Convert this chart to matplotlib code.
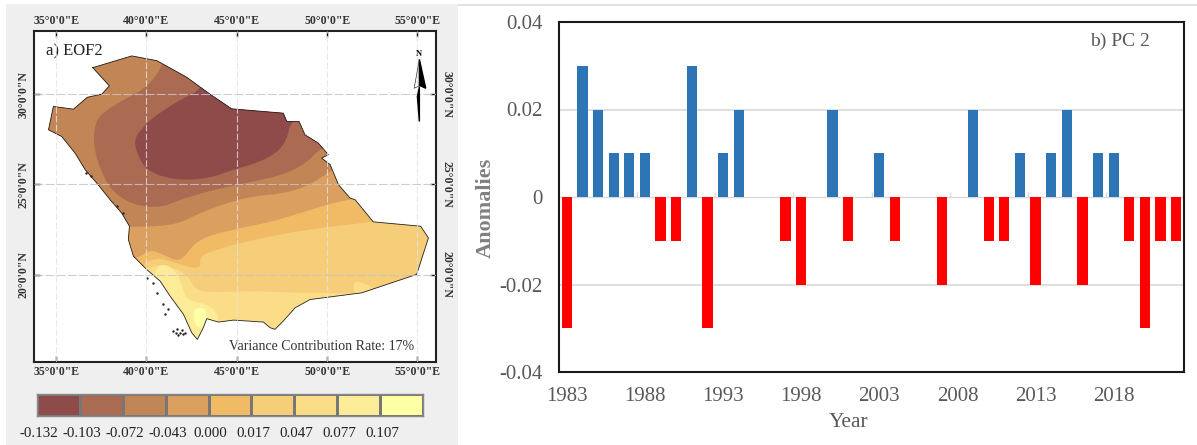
import matplotlib
matplotlib.use("Agg")
import matplotlib.pyplot as plt
from matplotlib.patches import Polygon, Rectangle
from matplotlib.colors import ListedColormap
import numpy as np

plt.rcParams["font.family"] = ["Liberation Serif", "DejaVu Serif"]

W, H = 1197, 445

# === PC 2 values ===
years = list(range(1983, 2023))
pc2 = [-0.03, 0.03, 0.02, 0.01, 0.01, 0.01, -0.01, -0.01, 0.03, -0.03,
       0.01, 0.02, 0, 0, -0.01, -0.02, 0, 0.02, -0.01, 0,
       0.01, -0.01, 0, 0, -0.02, 0, 0.02, -0.01, -0.01, 0.01,
       -0.02, 0.01, 0.02, -0.02, 0.01, 0.01, -0.01, -0.03, -0.01, -0.01]
year_ticks = list(range(1983, 2019, 5))
pc_ticks = [-0.04, -0.02, 0, 0.02, 0.04]
pc_labels = ["-0.04", "-0.02", "0", "0.02", "0.04"]

# === EOF2 classes ===
levels = ["-0.132", "-0.103", "-0.072", "-0.043", "0.000", "0.017", "0.047", "0.077", "0.107"]
colors = ["#8f4a4a", "#ab6a52", "#c28556", "#db9f5f", "#f1bb66", "#f6cd78", "#fbdc87", "#fdec97", "#ffffa6"]

# Country outline (lon, lat)
outline_lon = [37.03, 39.19, 40.57, 42.23, 43.52, 44.72, 47.58, 47.77, 48.45, 48.78, 49.52, 50.07, 49.70, 50.17,
               50.63, 51.27, 51.55, 52.56, 55.18, 55.61, 54.96, 51.92, 49.06, 48.23, 47.58, 47.12, 46.84, 46.48,
               44.82, 43.99, 43.34, 43.15, 42.82, 42.51, 42.05, 41.31, 40.76, 40.02, 39.28, 39.00, 39.06, 38.63,
               37.99, 37.25, 36.61, 36.05, 35.31, 34.58, 34.85, 35.96, 36.73, 37.53, 37.95]
outline_lat = [31.47, 32.12, 31.86, 30.94, 30.00, 29.19, 28.95, 28.49, 28.49, 27.75, 27.29, 26.65, 26.46, 26.10,
               24.99, 24.25, 24.16, 22.93, 22.69, 22.04, 20.02, 19.00, 18.63, 18.17, 17.44, 16.98, 17.07, 17.38,
               17.49, 17.38, 17.57, 17.07, 16.42, 16.79, 17.81, 18.82, 19.65, 20.29, 21.03, 21.95, 22.69, 23.42,
               24.16, 25.08, 25.82, 26.74, 27.66, 28.03, 29.32, 29.17, 29.83, 30.00, 30.46]

# Class regions, painted from the widest to the innermost, clipped to the outline
c6_lon = [40.02, 40.66, 41.13, 41.96, 42.42, 42.79, 43.89, 45.92, 48.51, 51.46, 52.20, 55.90, 55.90, 33.90, 33.90]
c6_lat = [20.29, 20.57, 20.48, 20.20, 19.74, 19.10, 19.04, 19.10, 19.00, 19.00, 18.80, 18.80, 33.30, 33.30, 20.29]
c5_lon = [39.65, 39.83, 40.02, 40.76, 41.86, 42.97, 42.97, 43.34, 44.26, 44.82, 47.77, 50.35, 52.56, 54.04, 54.04, 33.90, 33.90]
c5_lat = [20.20, 20.48, 20.75, 20.94, 20.57, 20.29, 20.94, 21.21, 21.49, 21.67, 22.32, 22.69, 22.93, 23.24, 33.30, 33.30, 20.20]
c4_lon = [38.91, 39.56, 40.20, 40.94, 41.68, 42.14, 42.60, 43.34, 44.82, 47.03, 48.51, 50.35, 51.55, 53.12, 53.12, 33.90, 33.90]
c4_lat = [20.88, 20.94, 21.40, 21.12, 20.75, 21.03, 21.67, 22.13, 22.50, 22.96, 23.42, 23.98, 24.22, 24.53, 33.30, 33.30, 20.88]
c3_lon = [38.36, 39.06, 40.76, 41.86, 42.97, 44.45, 45.92, 47.77, 49.06, 50.17, 51.46, 51.46, 33.90, 33.90]
c3_lat = [22.65, 22.65, 22.69, 22.87, 23.42, 23.98, 24.35, 24.53, 24.99, 25.73, 26.37, 33.30, 33.30, 22.65]
c2_lon = [40.94, 40.66, 39.83, 38.54, 37.44, 37.16, 37.07, 37.25, 37.80, 38.36, 39.28, 40.76, 41.86, 43.71,
          45.92, 47.58, 48.87, 49.61, 51.27, 48.51, 42.97]
c2_lat = [31.90, 31.16, 30.24, 29.59, 28.86, 28.31, 27.48, 26.37, 25.08, 24.44, 23.88, 23.70, 24.16, 24.71,
          25.17, 25.54, 26.19, 27.02, 27.48, 31.16, 32.82]
c1_lon = [43.08, 41.86, 40.57, 39.93, 39.28, 39.56, 39.93, 40.76, 42.05, 43.52, 44.82, 46.11, 47.21, 47.77,
          47.99, 49.43, 44.82, 42.97]
c1_lat = [30.29, 29.69, 28.86, 28.31, 27.48, 26.56, 25.91, 25.45, 25.23, 25.36, 25.82, 26.19, 26.74, 27.48,
          28.49, 29.69, 31.16, 31.16]
c7_blob_lon = [51.46, 52.01, 52.66, 52.01, 51.49]
c7_blob_lat = [19.65, 19.56, 19.22, 18.82, 18.90]
c8_lon = [40.57, 41.13, 41.68, 41.96, 42.23, 42.97, 43.52, 43.99, 43.89, 42.97, 41.86, 40.39]
c8_lat = [20.48, 20.57, 20.11, 19.37, 18.63, 18.45, 18.27, 17.81, 17.25, 16.20, 16.79, 19.56]
c9_lon = [42.69, 43.25, 43.38, 43.15, 42.79, 42.56]
c9_lat = [18.17, 18.17, 17.62, 17.07, 17.07, 17.71]

# Red Sea islands and reefs
speck_lon = [41.49, 41.68, 41.86, 42.01, 41.77, 42.14, 41.95, 41.64, 40.02, 40.39, 40.57, 40.94, 41.22, 41.03,
             38.36, 38.69, 36.66, 36.92]
speck_lat = [16.89, 16.98, 16.79, 16.70, 16.64, 16.79, 16.94, 16.79, 19.83, 19.56, 19.00, 18.36, 18.08, 17.81,
             23.79, 23.42, 25.63, 25.45]

map_lons = [35, 40, 45, 50, 55]
map_lats = [20, 25, 30]


def px_axes(fig, left, top, right, bottom):
    return fig.add_axes([left / W, 1 - bottom / H, (right - left) / W, (bottom - top) / H])


def rounded(xs, ys, passes=2):
    # corner cutting, so the class edges look like contours
    pts = np.column_stack([xs, ys])
    for _ in range(passes):
        nxt = np.roll(pts, -1, axis=0)
        pts = np.column_stack([0.75 * pts + 0.25 * nxt, 0.25 * pts + 0.75 * nxt]).reshape(-1, 2)
    return pts


fig = plt.figure(figsize=(W / 100, H / 100), dpi=100, facecolor="white")

# Grey panel behind the map
fig.patches.append(Rectangle((6 / W, 0), 452 / W, 441 / H, transform=fig.transFigure, facecolor="#efefef",
                             edgecolor="none", zorder=-2))
# Thin line above the bar chart
fig.patches.append(Rectangle((458 / W, 1 - 5.5 / H), 739 / W, 1.2 / H, transform=fig.transFigure, facecolor="#e2e2e2",
                             edgecolor="none", zorder=-2))

# === a) EOF2 map ===
ax = px_axes(fig, 33.5, 31, 436, 362)
ax.set_xlim(33.75, 56.03)
ax.set_ylim(15.17, 33.5)

outline = Polygon(np.column_stack([outline_lon, outline_lat]), closed=True, transform=ax.transData)
base = Polygon(np.column_stack([outline_lon, outline_lat]), closed=True, facecolor=colors[6], edgecolor="none", zorder=1)
ax.add_patch(base)

layers = [(c6_lon, c6_lat, colors[5]), (c7_blob_lon, c7_blob_lat, colors[6]), (c5_lon, c5_lat, colors[4]),
          (c4_lon, c4_lat, colors[3]), (c3_lon, c3_lat, colors[2]), (c2_lon, c2_lat, colors[1]),
          (c1_lon, c1_lat, colors[0]), (c8_lon, c8_lat, colors[7]), (c9_lon, c9_lat, colors[8])]
for i, (xs, ys, c) in enumerate(layers):
    p = Polygon(rounded(xs, ys), closed=True, facecolor=c, edgecolor="none", zorder=2 + i * 0.01)
    ax.add_patch(p)
    p.set_clip_path(outline)

ax.plot(outline_lon + outline_lon[:1], outline_lat + outline_lat[:1], color="#222222", lw=0.6, zorder=3)
ax.scatter(speck_lon, speck_lat, s=3, color="#222222", linewidths=0, zorder=3)

for x in map_lons:
    ax.axvline(x, color="#e4e4e4", lw=0.8, ls=(0, (6, 2)), alpha=0.8, zorder=4)
for y in map_lats:
    ax.axhline(y, color="#c8c4cc", lw=0.8, ls=(0, (8, 2)), alpha=0.85, zorder=4)

lon_labels = [f"{x}°0'0\"E" for x in map_lons]
lat_labels = [f"{y}°0'0\"N" for y in map_lats]
ax.set_xticks(map_lons)
ax.set_xticklabels(lon_labels, fontsize=8.5, fontweight="bold", color="#333333")
ax.set_yticks(map_lats)
ax.set_yticklabels(lat_labels, fontsize=8.5, fontweight="bold", color="#333333", rotation=90, va="center")
ax.tick_params(top=True, right=True, labeltop=True, labelright=True, direction="in", length=4, width=1, pad=3)
for tick in ax.yaxis.get_major_ticks():
    tick.label2.set_rotation(270)
    tick.label2.set_va("center")
for s in ax.spines.values():
    s.set_linewidth(1.5)
    s.set_color("#222222")

ax.text(0.031, 0.937, "a) EOF2", transform=ax.transAxes, fontsize=12, color="#222222", va="center")
ax.text(0.945, 0.047, "Variance Contribution Rate: 17%", transform=ax.transAxes, fontsize=10, color="#333333",
        ha="right", va="center")

# North arrow
ax.fill([55.11, 55.46, 55.18, 55.11], [31.93, 30.33, 30.46, 30.46], color="black", zorder=5)
ax.fill([55.11, 55.00, 55.11], [28.49, 29.87, 30.40], color="black", zorder=5)
ax.plot([55.11, 54.82, 55.11], [31.93, 30.33, 30.46], color="#333333", lw=0.5, zorder=5)
ax.text(55.11, 32.2, "N", fontsize=6, fontweight="bold", ha="center", va="center", zorder=5)

# === colour key ===
cax = px_axes(fig, 37, 394, 423, 416)
cax.pcolormesh(np.arange(10), [0, 1], [np.arange(9)], cmap=ListedColormap(colors), vmin=-0.5, vmax=8.5,
               edgecolors="#777777", linewidth=0.8)
cax.set_yticks([])
cax.set_xticks(np.arange(9) + 0.05)
cax.set_xticklabels(levels, fontsize=10.8, color="#222222")
cax.tick_params(axis="x", length=0, pad=8)
for s in cax.spines.values():
    s.set_color("#888888")
    s.set_linewidth(1)

# === b) PC 2 bars ===
bx = px_axes(fig, 559, 22, 1184, 372)
bar_colors = ["#2e75b6" if v > 0 else "#ff0000" for v in pc2]
bx.bar(years, pc2, width=0.65, color=bar_colors, zorder=3)
bx.set_xlim(1982.5, 2022.5)
bx.set_ylim(-0.04, 0.04)
bx.set_yticks(pc_ticks)
bx.set_yticklabels(pc_labels, fontsize=15, color="#595959")
bx.set_xticks(year_ticks)
bx.set_xticklabels(year_ticks, fontsize=15, color="#595959")
bx.tick_params(axis="y", length=0, pad=12)
bx.tick_params(axis="x", length=0, pad=11)
for v in [-0.02, 0.02]:
    bx.axhline(v, color="#d9d9d9", lw=1.2, zorder=1)
bx.axhline(0, color="#d9d9d9", lw=1, zorder=1)
# faint category ticks on the zero line
bx.vlines([y + 4.5 for y in year_ticks], 0, 0.0012, color="#d9d9d9", lw=1, zorder=1)
for s in bx.spines.values():
    s.set_linewidth(1.5)
    s.set_color("#1a1a1a")
bx.set_xlabel("Year", fontsize=15.5, color="#595959", x=0.463, labelpad=5)
bx.set_ylabel("Anomalies", fontsize=16, fontweight="bold", color="#808080")
bx.yaxis.set_label_coords(-0.1008, 0.469)
bx.text(0.898, 0.945, "b) PC 2", transform=bx.transAxes, fontsize=14, color="#595959", ha="center", va="center")

fig.savefig("out.png", dpi=100, facecolor="white")
